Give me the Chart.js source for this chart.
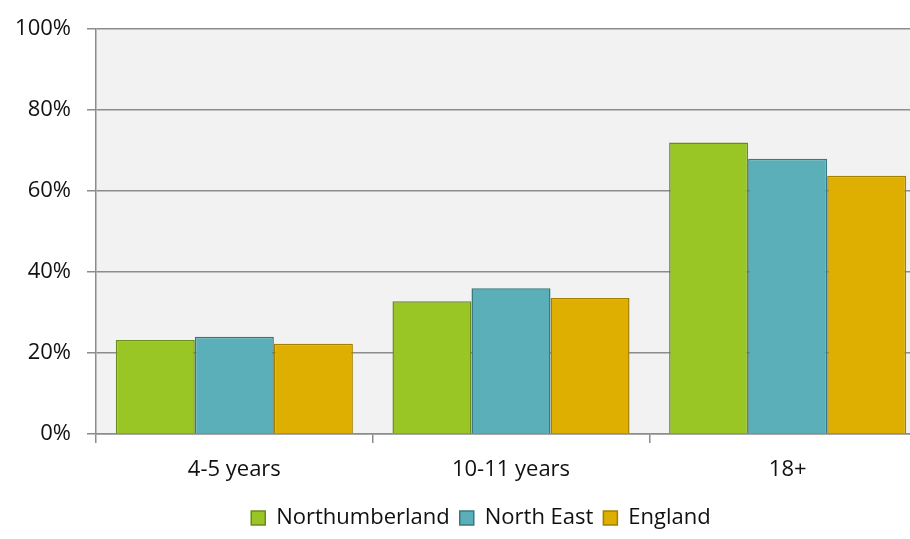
<!DOCTYPE html>
<html lang="en">
<head>
    <meta charset="UTF-8">
    <title>Obesity by age</title>
    <script src="https://cdn.jsdelivr.net/npm/chart.js@4.4.0/dist/chart.umd.min.js"></script>
    <style>
        html, body { margin: 0; padding: 0; background: #fff; overflow: hidden; }
        .chart-wrap { position: relative; width: 930px; height: 539px; }
    </style>
</head>
<body>
    <div class="chart-wrap">
        <canvas id="ageChart"></canvas>
    </div>
    <script>
        // values (percent)
        const categories = ['4-5 years', '10-11 years', '18+'];
        const northumberland = [23.2, 32.8, 72.0];
        const northEast = [24.0, 36.0, 68.0];
        const england = [22.3, 33.6, 63.8];
        const yTicks = [0, 20, 40, 60, 80, 100];

        const FONT = '"Open Sans", Lato, sans-serif';
        const GRID = '#8c8c8c';

        // light grey fill behind the plot
        const plotBackground = {
            id: 'plotBackground',
            beforeDraw(chart) {
                const { ctx, chartArea } = chart;
                ctx.save();
                ctx.fillStyle = '#f2f2f2';
                ctx.fillRect(chartArea.left, chartArea.top, chartArea.right - chartArea.left, chartArea.bottom - chartArea.top);
                ctx.restore();
            }
        };

        // canvas is wider than the window (plot runs off the right edge), so nudge legend back to centre
        const legendShift = {
            id: 'legendShift',
            afterLayout(chart) {
                const lg = chart.legend;
                if (!lg) return;
                lg.left += 18;
                lg.right += 18;
            }
        };

        new Chart(document.getElementById('ageChart'), {
            type: 'bar',
            data: {
                labels: categories,
                datasets: [
                    { label: 'Northumberland', data: northumberland, backgroundColor: '#99c624', borderColor: '#6a8c1e', borderWidth: 1.5 },
                    { label: 'North East', data: northEast, backgroundColor: '#5aafb8', borderColor: '#3a7880', borderWidth: 1.5 },
                    { label: 'England', data: england, backgroundColor: '#deae00', borderColor: '#a38000', borderWidth: 1.5 }
                ]
            },
            options: {
                responsive: true,
                maintainAspectRatio: false,
                animation: false,
                categoryPercentage: 0.857,
                barPercentage: 1,
                layout: { padding: { left: 0, right: 4, top: 24, bottom: 0 } },
                plugins: {
                    tooltip: { enabled: false },
                    legend: {
                        position: 'bottom',
                        labels: {
                            color: '#111',
                            font: { family: FONT, size: 22 },
                            boxWidth: 14,
                            boxHeight: 14,
                            padding: 10
                        }
                    }
                },
                scales: {
                    x: {
                        offset: true,
                        grid: { offset: true, drawOnChartArea: false, color: GRID, tickLength: 9, lineWidth: 1.5 },
                        border: { color: GRID, width: 1.5 },
                        ticks: { color: '#111', font: { family: FONT, size: 22 }, padding: 14 },
                        afterFit(scale) { scale.height = 63; }
                    },
                    y: {
                        min: 0,
                        max: 100,
                        afterBuildTicks(scale) { scale.ticks = yTicks.map(v => ({ value: v })); },
                        grid: { color: GRID, tickLength: 9, lineWidth: 1.5 },
                        border: { color: GRID, width: 1.5 },
                        ticks: {
                            color: '#111',
                            font: { family: FONT, size: 22 },
                            padding: 16,
                            callback: v => v + '%'
                        },
                        afterFit(scale) { scale.width = 96; }
                    }
                }
            },
            plugins: [plotBackground, legendShift]
        });
    </script>
</body>
</html>
